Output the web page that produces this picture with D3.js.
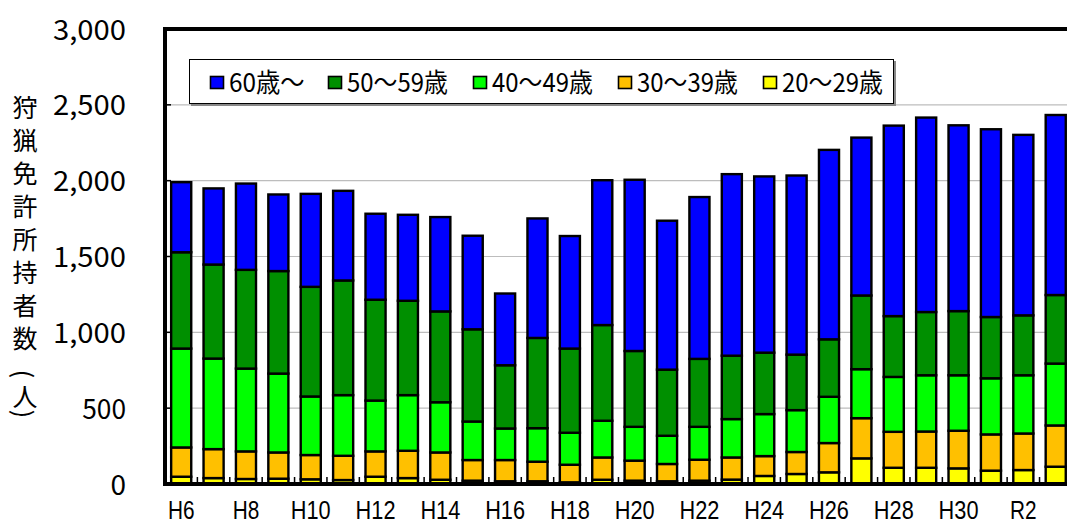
<!DOCTYPE html>
<html>
<head>
<meta charset="utf-8">
<script src="https://cdn.jsdelivr.net/npm/d3@7"></script>
<style>
  html, body { margin: 0; padding: 0; background: #fff; }
  svg { display: block; }
  text { font-family: "Noto Sans CJK JP", "Noto Sans", sans-serif; fill: #000; }
</style>
</head>
<body>
<svg id="chart" width="1067" height="525"></svg>
<script>
// ---------- data ----------
const categories = ["H6","H7","H8","H9","H10","H11","H12","H13","H14","H15","H16","H17","H18","H19","H20",
                    "H21","H22","H23","H24","H25","H26","H27","H28","H29","H30","R1","R2","R3"];
const xTickLabels = ["H6","H8","H10","H12","H14","H16","H18","H20","H22","H24","H26","H28","H30","R2"];
const yTickValues = [0, 500, 1000, 1500, 2000, 2500, 3000];

const age20s = [48,39,33,35,31,26,48,39,28,22,18,18,11,28,22,18,22,29,53,66,77,169,107,107,103,88,92,114];
const age30s = [193,191,182,173,160,160,167,180,180,136,140,129,116,147,132,114,138,146,131,145,193,265,237,239,248,239,241,272];
const age40s = [652,597,546,520,386,400,335,367,331,254,208,221,211,242,223,186,217,253,277,276,305,323,362,371,366,370,384,408];
const age50s = [635,620,651,676,723,756,665,622,599,608,417,595,555,631,500,436,448,418,405,366,379,486,401,417,423,404,395,452];
const age60plus = [462,502,569,505,613,591,567,567,622,617,473,788,742,955,1129,982,1067,1197,1162,1181,1249,1041,1256,1282,1225,1238,1190,1187];

const seriesKeys   = ["a20","a30","a40","a50","a60"];           // stacking order (bottom -> top)
const seriesNames  = {a60:"60歳～", a50:"50～59歳", a40:"40～49歳", a30:"30～39歳", a20:"20～29歳"};
const seriesColors = {a60:"#0000ff", a50:"#008f00", a40:"#00ff00", a30:"#ffc000", a20:"#ffff00"};
const legendOrder  = ["a60","a50","a40","a30","a20"];
const yTitle = "狩猟免許所持者数（人）";

// table built from the arrays
const table = categories.map((c, i) => ({
  cat: c, a20: age20s[i], a30: age30s[i], a40: age40s[i], a50: age50s[i], a60: age60plus[i]
}));

// ---------- layout ----------
const svg = d3.select("#chart");
const plotLeft = 165, plotTop = 29, plotBottom = 484;
const plotRight = plotLeft + categories.length * 32.39;

const x = d3.scaleBand().domain(categories).range([plotLeft, plotRight])
  .paddingInner(0.38).paddingOuter(0.19);
const y = d3.scaleLinear().domain([0, 3000]).range([plotBottom, plotTop]);

// half-width character units (for monospace-like text widths)
const halfUnits = s => Array.from(s).reduce((n, ch) => n + (ch.charCodeAt(0) > 0xff ? 2 : 1), 0);

// gridlines
svg.append("g").selectAll("line").data(yTickValues.filter(v => v > 0 && v < 3000)).join("line")
  .attr("x1", plotLeft).attr("x2", 1067)
  .attr("y1", d => y(d)).attr("y2", d => y(d))
  .attr("stroke", "#bdbdbd").attr("stroke-width", 1.2);

// bars
const stacked = d3.stack().keys(seriesKeys)(table);
svg.append("g").selectAll("g").data(stacked).join("g")
  .attr("fill", d => seriesColors[d.key])
  .selectAll("rect").data(d => d).join("rect")
  .attr("x", d => x(d.data.cat))
  .attr("width", x.bandwidth())
  .attr("y", d => y(d[1]))
  .attr("height", d => y(d[0]) - y(d[1]))
  .attr("stroke", "#000").attr("stroke-width", 2.4);

// y axis (labels)
const yAxis = d3.axisLeft(y).tickValues(yTickValues).tickFormat(d3.format(","))
  .tickSize(0).tickPadding(39);
const gy = svg.append("g").attr("transform", `translate(${plotLeft},0)`).call(yAxis);
gy.select(".domain").remove();
gy.selectAll("text")
  .attr("font-size", 28).attr("dy", 10).attr("x", -39)
  .style("font-family", '"Noto Sans CJK JP", sans-serif')
  .each(function(d) {
    const s = d3.format(",")(d);
    if (s.length > 1) d3.select(this).attr("textLength", s.length * 14.6).attr("lengthAdjust", "spacingAndGlyphs");
  });

// inner ticks on y axis
svg.append("g").selectAll("line").data(yTickValues.filter(v => v > 0 && v < 3000)).join("line")
  .attr("x1", plotLeft).attr("x2", plotLeft + 6)
  .attr("y1", d => y(d)).attr("y2", d => y(d))
  .attr("stroke", "#000").attr("stroke-width", 1.5);

// x axis (labels)
const xAxis = d3.axisBottom(x).tickValues(xTickLabels).tickSize(0);
const gx = svg.append("g").attr("transform", `translate(0,${plotBottom})`).call(xAxis);
gx.select(".domain").remove();
gx.selectAll("text")
  .attr("y", 35).attr("dy", 0).attr("font-size", 26)
  .style("font-family", '"Liberation Sans", "Noto Sans", sans-serif')
  .each(function(d) {
    d3.select(this).attr("textLength", d.length * 13.3).attr("lengthAdjust", "spacingAndGlyphs");
  });

// inner ticks on x axis at category boundaries
const boundaries = categories.slice(1).map(c => x(c) - x.step() * x.paddingInner() / 2);
svg.append("g").selectAll("line").data(boundaries).join("line")
  .attr("x1", d => d).attr("x2", d => d)
  .attr("y1", plotBottom).attr("y2", plotBottom - 7)
  .attr("stroke", "#000").attr("stroke-width", 1.5);

// frame
svg.append("line").attr("x1", plotLeft).attr("x2", plotLeft).attr("y1", plotTop - 2).attr("y2", plotBottom + 2)
  .attr("stroke", "#000").attr("stroke-width", 4);
svg.append("line").attr("x1", plotLeft - 2).attr("x2", 1067).attr("y1", plotTop).attr("y2", plotTop)
  .attr("stroke", "#000").attr("stroke-width", 4);
svg.append("line").attr("x1", plotLeft - 2).attr("x2", 1067).attr("y1", plotBottom).attr("y2", plotBottom)
  .attr("stroke", "#000").attr("stroke-width", 4);

// legend
const lg = svg.append("g");
lg.append("rect").attr("x", 191).attr("y", 61).attr("width", 705).attr("height", 45).attr("fill", "#888");
lg.append("rect").attr("x", 189.5).attr("y", 59.5).attr("width", 704).attr("height", 44)
  .attr("fill", "#fff").attr("stroke", "#000").attr("stroke-width", 1);
const swatchX = [210, 328, 473, 618, 763];
legendOrder.forEach((k, i) => {
  lg.append("rect").attr("x", swatchX[i] + 0.5).attr("y", 76.5).attr("width", 13).attr("height", 12)
    .attr("fill", seriesColors[k]).attr("stroke", "#000").attr("stroke-width", 1.6);
  lg.append("text").attr("x", swatchX[i] + 19).attr("y", 92).attr("font-size", 26)
    .attr("textLength", halfUnits(seriesNames[k]) * 12.6).attr("lengthAdjust", "spacingAndGlyphs")
    .text(seriesNames[k]);
});

// y axis title (vertical)
const titleChars = Array.from(yTitle);
const charY = [106, 139, 172, 205, 238, 271, 304, 337, 374, 395, 414];
const tg = svg.append("g");
titleChars.forEach((ch, i) => {
  const isParen = ch === "（" || ch === "）";
  const t = tg.append("text").attr("x", 25).attr("y", charY[i])
    .attr("text-anchor", "middle").attr("dominant-baseline", "central")
    .attr("font-size", 25).text(isParen ? (ch === "（" ? "(" : ")") : ch);
  if (isParen) t.attr("transform", `rotate(90,25,${charY[i]})`);
});
</script>
</body>
</html>
